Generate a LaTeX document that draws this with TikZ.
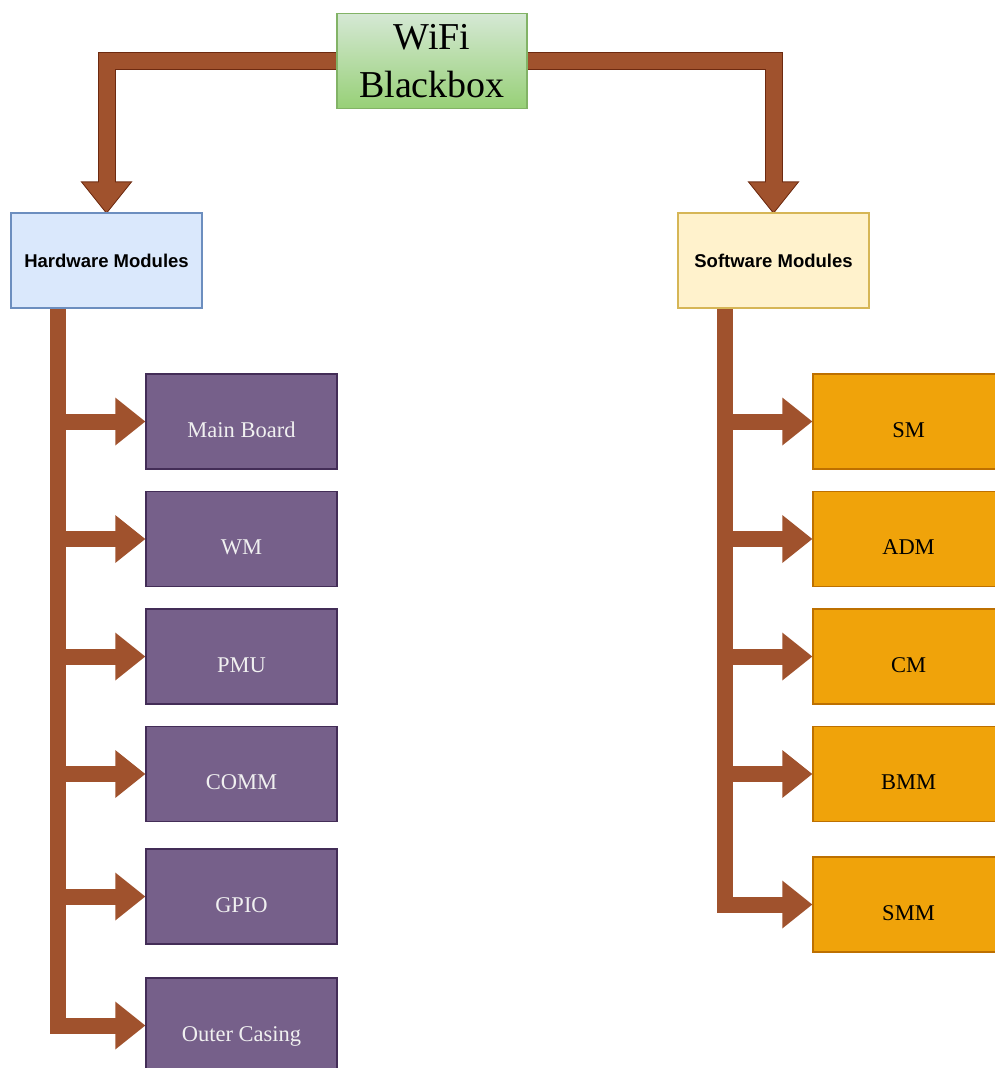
\documentclass[tikz,border=0pt]{standalone}
\usepackage{fontspec}
\setmainfont{Liberation Serif}
\setsansfont{Liberation Sans}
\usetikzlibrary{calc}

\definecolor{arrowfill}{HTML}{A0522D}
\definecolor{arrowline}{HTML}{6D2A10}
\definecolor{rootfillA}{HTML}{D5E8D4}
\definecolor{rootfillB}{HTML}{97D077}
\definecolor{rootline}{HTML}{82B366}
\definecolor{hwfill}{HTML}{DAE8FC}
\definecolor{hwline}{HTML}{6C8EBF}
\definecolor{swfill}{HTML}{FFF2CC}
\definecolor{swline}{HTML}{D6B656}
\definecolor{partfill}{HTML}{76608A}
\definecolor{partline}{HTML}{432D57}
\definecolor{taskfill}{HTML}{F0A30A}
\definecolor{taskline}{HTML}{BD7000}

\pgfdeclarelayer{outline}
\pgfdeclarelayer{arrowbody}
\pgfsetlayers{outline,arrowbody,main}

\tikzset{
  box/.style={rectangle, minimum width=191pt, minimum height=95pt,
    line width=1.5pt, inner sep=0pt, align=center},
  % label sits a little below the box centre
  lowlabel/.style={text height=31pt, text depth=0pt},
  root/.style={box, minimum width=190pt, top color=rootfillA, bottom color=rootfillB,
    draw=rootline, font=\fontsize{38}{48}\selectfont},
  group/.style={box, font=\sffamily\bfseries\fontsize{18.5}{22}\selectfont},
  hwgroup/.style={group, fill=hwfill, draw=hwline},
  swgroup/.style={group, fill=swfill, draw=swline},
  part/.style={box, lowlabel, fill=partfill, draw=partline, text=white!94!black,
    font=\fontsize{22.5}{27}\selectfont},
  task/.style={box, lowlabel, fill=taskfill, draw=taskline, text=black,
    font=\fontsize{22.5}{27}\selectfont},
  shaftedge/.style={line width=18pt, draw=arrowline, line join=miter, shorten >=28pt},
  shaftbody/.style={line width=16pt, draw=arrowfill, line join=miter, shorten >=28pt},
  headedge/.style={draw=arrowline, fill=arrowline, line width=2pt, line join=miter},
  headbody/.style={fill=arrowfill},
}

% Wide block arrow: #1 source, #2 route operator, #3 target anchor, #4 head direction
\newcommand\flexarrow[4]{%
  \begin{pgfonlayer}{arrowbody}
    \draw[shaftbody] (#1) #2 (#3);
    \fill[headbody, shift={(#3)}, rotate=#4] (0,0) -- (-30,24) -- (-30,-24) -- cycle;
  \end{pgfonlayer}
}
% Same arrow with a thin dark rim
\newcommand\rimmedflexarrow[4]{%
  \begin{pgfonlayer}{outline}
    \draw[shaftedge] (#1) #2 (#3);
    \draw[headedge, shift={(#3)}, rotate=#4] (0,0) -- (-30,24) -- (-30,-24) -- cycle;
  \end{pgfonlayer}
  \flexarrow{#1}{#2}{#3}{#4}
}

\begin{document}
\begin{tikzpicture}[x=1pt, y=-1pt]
  \useasboundingbox (0,0) rectangle (994,1068);

  % root
  \node[root] (wifi) at (432,61) {WiFi\\Blackbox};

  % module groups
  \node[hwgroup] (hw) at (106.5,260.5) {Hardware Modules};
  \node[swgroup] (sw) at (773.5,260.5) {Software Modules};

  % hardware parts
  \node[part] (mb)   at (241.5,421.5) {Main Board};
  \node[part] (wm)   at (241.5,539)   {WM};
  \node[part] (pmu)  at (241.5,656.5) {PMU};
  \node[part] (comm) at (241.5,774)   {COMM};
  \node[part] (gpio) at (241.5,896.5) {GPIO};
  \node[part] (oc)   at (241.5,1025.5){Outer Casing};

  % software parts
  \node[task] (smod) at (908.5,421.5) {SM};
  \node[task] (adm)  at (908.5,539)   {ADM};
  \node[task] (cm)   at (908.5,656.5) {CM};
  \node[task] (bmm)  at (908.5,774)   {BMM};
  \node[task] (smm)  at (908.5,904.5) {SMM};

  % trunk exits at a quarter of each group box
  \coordinate (hwout) at ($(hw.south west)!0.25!(hw.south east)$);
  \coordinate (swout) at ($(sw.south west)!0.25!(sw.south east)$);

  % root to groups
  \rimmedflexarrow{wifi.west}{-|}{hw.north}{-90}
  \rimmedflexarrow{wifi.east}{-|}{sw.north}{-90}

  % hardware branches
  \foreach \t in {mb,wm,pmu,comm,gpio,oc}{
    \flexarrow{hwout}{|-}{\t.west}{0}
  }

  % software branches
  \foreach \t in {smod,adm,cm,bmm,smm}{
    \flexarrow{swout}{|-}{\t.west}{0}
  }
\end{tikzpicture}
\end{document}
